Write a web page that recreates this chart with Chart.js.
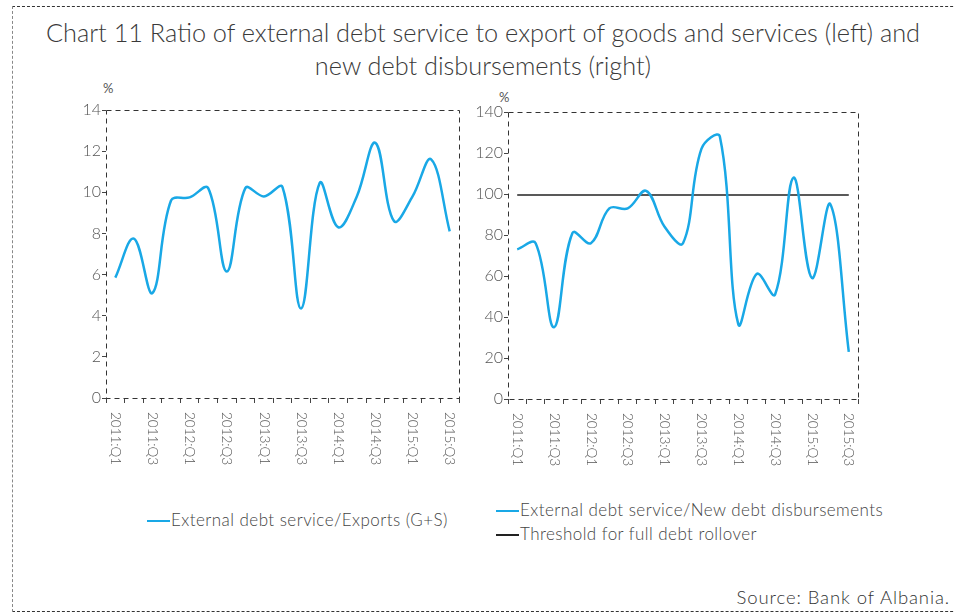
<!DOCTYPE html>
<html>
<head>
<meta charset="utf-8">
<script src="https://cdn.jsdelivr.net/npm/chart.js@4.4.1/dist/chart.umd.min.js"></script>
<style>
  body { margin: 0; width: 955px; height: 613px; background: #fff; position: relative; overflow: hidden; font-family: "Lato", "DejaVu Sans", sans-serif; }
  .frame { position: absolute; left: 12px; top: 6px; width: 1000px; height: 604px; border-left: 1px dashed #888; border-top: 1px dashed #333; border-bottom: 1px dashed #333; }
  .title { position: absolute; left: 0; top: 16px; width: 966px; text-align: center; font-size: 25.3px; font-weight: 300; line-height: 33px; color: #3a3a3a; }
  .unit { position: absolute; font-size: 13px; color: #555; }
  canvas { position: absolute; }
  .leg { position: absolute; font-size: 17px; font-weight: 300; color: #444; white-space: nowrap; letter-spacing: 0.45px; }
  .leg span.l { display: inline-block; width: 23px; height: 2px; vertical-align: middle; margin-right: 1px; position: relative; top: -1px; }
  .src { position: absolute; right: 5px; top: 586px; font-size: 18.5px; font-weight: 300; color: #333; letter-spacing: 0.9px; }
</style>
</head>
<body>
<div class="frame"></div>
<div class="title">Chart 11 Ratio of external debt service to export of goods and services (left) and<br>new debt disbursements (right)</div>
<div class="unit" style="left:103px;top:80px">%</div>
<div class="unit" style="left:499px;top:89px">%</div>
<div style="position:absolute;left:60px;top:90px;width:410px;height:400px"><canvas id="left"></canvas></div>
<div style="position:absolute;left:470px;top:90px;width:410px;height:400px"><canvas id="right"></canvas></div>
<div class="leg" style="left:147px;top:509px"><span class="l" style="background:#19a8e6"></span>External debt service/Exports (G+S)</div>
<div class="leg" style="left:496px;top:499px"><span class="l" style="background:#19a8e6"></span>External debt service/New debt disbursements</div>
<div class="leg" style="left:496px;top:523px"><span class="l" style="background:#222"></span>Threshold for full debt rollover</div>
<div class="src">Source: Bank of Albania.</div>
<script>
// Trimestrat 2011:Q1 - 2015:Q3
const quarters = ['2011:Q1','2011:Q2','2011:Q3','2011:Q4','2012:Q1','2012:Q2','2012:Q3','2012:Q4',
  '2013:Q1','2013:Q2','2013:Q3','2013:Q4','2014:Q1','2014:Q2','2014:Q3','2014:Q4','2015:Q1','2015:Q2','2015:Q3'];
// Sherbimi i borxhit / eksporte (%)
const debtToExports = [5.85, 7.75, 5.1, 9.6, 9.75, 10.2, 6.15, 10.2, 9.8, 10.25, 4.35, 10.45, 8.3, 9.8, 12.4, 8.6, 9.8, 11.6, 8.1];
// Sherbimi i borxhit / disbursime te reja (%)
const debtToDisb = [73, 76, 35, 81, 76, 93, 93, 101.5, 84, 76, 122, 128, 36.5, 61, 51, 108, 59, 95, 23];
const threshold = quarters.map(() => 99.5);
const leftTicks = [0, 2, 4, 6, 8, 10, 12, 14];
const rightTicks = [0, 20, 40, 60, 80, 100, 120, 140];

const BLUE = '#19a8e6';
const FONT = "'Lato', 'DejaVu Sans', sans-serif";

// korniza me vija te nderprera + etiketat vertikale
const frameAndLabels = {
  id: 'frameAndLabels',
  afterDraw(chart) {
    const { ctx, chartArea: a } = chart;
    const x = chart.scales.x;
    ctx.save();
    ctx.setLineDash([5, 4]);
    ctx.strokeStyle = '#333';
    ctx.lineWidth = 1;
    ctx.strokeRect(Math.round(a.left) + 0.5, Math.round(a.top) + 0.5, Math.round(a.right - a.left), Math.round(a.bottom - a.top));
    ctx.setLineDash([]);
    ctx.fillStyle = '#555';
    ctx.font = '300 13.5px ' + FONT;
    ctx.textBaseline = 'middle';
    ctx.textAlign = 'left';
    quarters.forEach((q, i) => {
      if (i % 2) return;
      const px = x.getPixelForValue(i);
      ctx.save();
      ctx.translate(px, a.bottom + 14);
      ctx.rotate(Math.PI / 2);
      ctx.fillText(q, 0, 0);
      ctx.restore();
    });
    ctx.restore();
  }
};

function makeChart(id, datasets, ticks, max, yWidth, padRight, padTop, xHeight) {
  return new Chart(document.getElementById(id), {
    type: 'line',
    data: { labels: quarters, datasets },
    plugins: [frameAndLabels],
    options: {
      responsive: true,
      maintainAspectRatio: false,
      animation: false,
      layout: { padding: { right: padRight, top: padTop, left: 0, bottom: 0 } },
      plugins: { legend: { display: false }, tooltip: { enabled: false } },
      elements: { point: { radius: 0 } },
      scales: {
        x: {
          offset: true,
          grid: { offset: true, drawOnChartArea: false, drawTicks: true, tickLength: 5, color: '#444' },
          border: { display: false },
          ticks: { display: false },
          afterFit: s => { s.height = xHeight; }
        },
        y: {
          min: 0, max: max,
          afterBuildTicks: s => { s.ticks = ticks.map(v => ({ value: v })); },
          grid: { drawOnChartArea: false, drawTicks: true, tickLength: 4, color: '#444' },
          border: { display: false },
          ticks: { color: '#555', padding: 1, font: { family: FONT, size: 16, weight: 300 } },
          afterFit: s => { s.width = yWidth; }
        }
      }
    }
  });
}

makeChart('left', [{
  label: 'External debt service/Exports (G+S)',
  data: debtToExports, borderColor: BLUE, borderWidth: 2.5, tension: 0.38
}], leftTicks, 14, 46, 11, 20, 92);

makeChart('right', [{
  label: 'External debt service/New debt disbursements',
  data: debtToDisb, borderColor: BLUE, borderWidth: 2.5, tension: 0.38
}, {
  label: 'Threshold for full debt rollover',
  data: threshold, borderColor: '#222', borderWidth: 1.5, tension: 0
}], rightTicks, 140, 38, 22, 22, 91);
</script>
</body>
</html>
